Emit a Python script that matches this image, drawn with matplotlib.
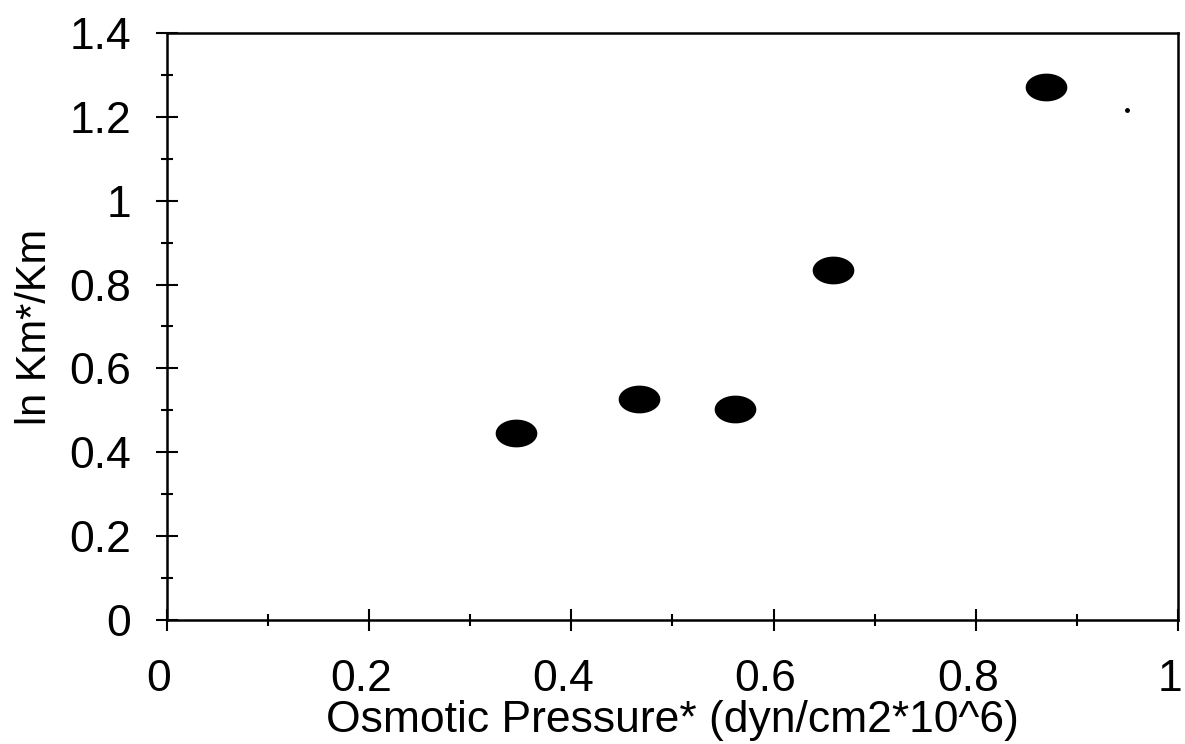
import numpy as np
import matplotlib.pyplot as plt
import matplotlib.transforms as mtransforms
from matplotlib.path import Path
from matplotlib.ticker import MultipleLocator, FuncFormatter

plt.rcParams['font.family'] = ['Liberation Sans', 'DejaVu Sans']

pressure = [0.345, 0.467, 0.562, 0.659, 0.870]
ln_ratio = [0.445, 0.527, 0.503, 0.835, 1.272]
speck_x = [0.950]
speck_y = [1.216]

# flattened circle -> ellipse marker
t = np.linspace(0, 2 * np.pi, 60)
ellipse = Path(np.column_stack([1.5 * np.cos(t), np.sin(t)]), closed=True)

fig = plt.figure(figsize=(11.85, 7.44), dpi=100)
ax = fig.add_axes([0.141, 0.1667, 0.853, 0.789])

ax.plot(pressure, ln_ratio, linestyle='none', marker=ellipse, markersize=30,
        color='black', markeredgewidth=0)
ax.plot(speck_x, speck_y, linestyle='none', marker='o', markersize=2.5, color='black')

ax.set_xlim(0, 1)
ax.set_ylim(0, 1.4)
ax.xaxis.set_major_locator(MultipleLocator(0.2))
ax.xaxis.set_minor_locator(MultipleLocator(0.1))
ax.yaxis.set_major_locator(MultipleLocator(0.2))
ax.yaxis.set_minor_locator(MultipleLocator(0.1))
fmt = FuncFormatter(lambda v, p: '%g' % round(v, 2))
ax.xaxis.set_major_formatter(fmt)
ax.yaxis.set_major_formatter(fmt)

ax.tick_params(which='both', direction='inout', width=1.5, colors='black')
ax.tick_params(which='major', length=16, labelsize=32)
ax.tick_params(which='minor', length=9)
ax.tick_params(axis='x', which='major', pad=20)
ax.tick_params(axis='y', which='major', pad=18)

# scanned labels sit a little left of their ticks
shift = mtransforms.ScaledTranslation(-8 / 100, 0, fig.dpi_scale_trans)
for lab in ax.get_xticklabels():
    lab.set_transform(lab.get_transform() + shift)

for s in ax.spines.values():
    s.set_linewidth(1.8)

ax.set_xlabel('Osmotic Pressure* (dyn/cm2*10^6)', fontsize=32, labelpad=0)
ax.set_ylabel('ln Km*/Km', fontsize=30, labelpad=10)

fig.savefig('out.png', dpi=100)
